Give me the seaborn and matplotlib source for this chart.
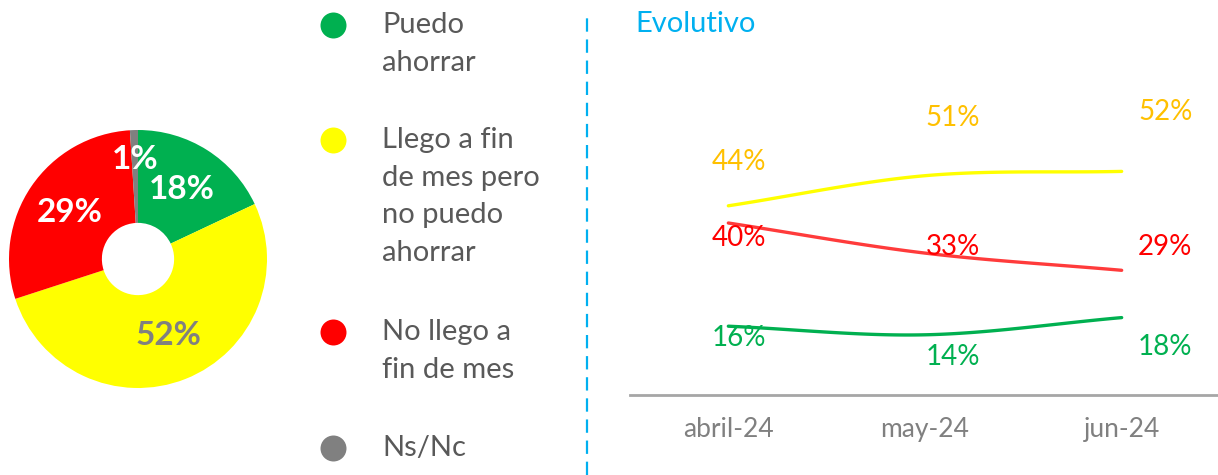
import numpy as np
import pandas as pd
import seaborn as sns
from matplotlib import pyplot as plt

# donut (current month)
cats = ['Puedo ahorrar', 'Llego a fin de mes pero no puedo ahorrar', 'No llego a fin de mes', 'Ns/Nc']
legend_labels = ['Puedo\nahorrar', 'Llego a fin\nde mes pero\nno puedo\nahorrar', 'No llego a\nfin de mes', 'Ns/Nc']
share = [18, 52, 29, 1]
slice_colors = ['#00B050', '#FFFF00', '#FF0000', '#808080']
pct_colors = ['white', '#808080', 'white', 'white']

# evolution
months = ['abril-24', 'may-24', 'jun-24']
puedo = [16, 14, 18]
llego = [44, 51, 52]
no_llego = [40, 33, 29]

line_colors = {'llego': '#FFFF00', 'no_llego': '#FF3B3B', 'puedo': '#00B050'}
lab_colors = {'llego': '#FFC000', 'no_llego': '#FF0000', 'puedo': '#00B050'}
# label offsets in pixels (dx, dy with y up)
lab_off = {
    'llego': [(11, 44), (28, 58), (44, 59)],
    'no_llego': [(11, -15), (28, 6), (43, 23)],
    'puedo': [(11, -12), (28, -22), (43, -29)],
}

sns.set_style('white')
plt.rcParams['font.family'] = ['Lato', 'DejaVu Sans']

W, H = 1218, 475
fig = plt.figure(figsize=(W / 100, H / 100), dpi=100)


def fbox(x0, y0, w, h):
    # pixel box (top-left origin) -> figure fraction
    return [x0 / W, (H - y0 - h) / H, w / W, h / H]


# ---- donut
axd = fig.add_axes(fbox(9, 130, 258, 258))
wedges, texts, autotexts = axd.pie(share, colors=slice_colors, startangle=90, counterclock=False,
                                   wedgeprops=dict(width=0.72, linewidth=0),
                                   autopct='%d%%', pctdistance=0.64, radius=1)
for t, c in zip(autotexts, pct_colors):
    t.set_color(c)
    t.set_fontsize(24)
    t.set_fontweight('bold')
# small slice label pushed outward
x1, y1 = autotexts[3].get_position()
autotexts[3].set_position((x1, y1 * 1.2))
axd.set_xlim(-1, 1)
axd.set_ylim(-1, 1)
axd.set_aspect('equal')
axd.axis('off')

# ---- line chart
series = {'puedo': puedo, 'llego': llego, 'no_llego': no_llego}


def smooth(ys, n=40):
    # catmull-rom style smoothing like office "smoothed line"
    ys = np.asarray(ys, float)
    m = np.gradient(ys)
    xs_out, ys_out = [], []
    for i in range(len(ys) - 1):
        t = np.linspace(0, 1, n)
        p0, p3 = ys[i], ys[i + 1]
        p1, p2 = p0 + m[i] / 3, p3 - m[i + 1] / 3
        b = (1 - t) ** 3 * p0 + 3 * (1 - t) ** 2 * t * p1 + 3 * (1 - t) * t ** 2 * p2 + t ** 3 * p3
        xs_out.extend(i + t)
        ys_out.extend(b)
    return xs_out, ys_out


rows = []
for k, v in series.items():
    xs, ys = smooth(v)
    rows += [dict(x=a, y=b, serie=k) for a, b in zip(xs, ys)]
df = pd.DataFrame(rows)

axl = fig.add_axes(fbox(630, 137, 590, 258))
sns.lineplot(data=df, x='x', y='y', hue='serie', palette=line_colors, estimator=None,
             sort=False, linewidth=2.4, legend=False, ax=axl)
for k, v in series.items():
    for i, val in enumerate(v):
        dx, dy = lab_off[k][i]
        axl.annotate(f'{val}%', (i, val), xytext=(dx, dy), textcoords='offset pixels',
                     ha='center', va='center', fontsize=20, color=lab_colors[k],
                     annotation_clip=False)
axl.set_xlim(-0.5, 2.5)
axl.set_ylim(0, 60)
axl.set_xticks(range(len(months)))
axl.set_xticklabels(months, fontsize=19, color='#808080')
axl.set_yticks([])
axl.set_xlabel('')
axl.set_ylabel('')
axl.tick_params(axis='x', length=0, pad=16)
for s in ['top', 'right', 'left']:
    axl.spines[s].set_visible(False)
axl.spines['bottom'].set_color('#A6A6A6')
axl.spines['bottom'].set_linewidth(2)
axl.patch.set_visible(False)

# ---- legend and separators (pixel overlay)
axo = fig.add_axes([0, 0, 1, 1])
axo.set_xlim(0, W)
axo.set_ylim(H, 0)
axo.axis('off')
axo.patch.set_visible(False)
leg_y = [25, 140, 332, 448]
for lab, c, y in zip(legend_labels, slice_colors, leg_y):
    axo.scatter([333], [y], s=350, color=c, linewidth=0)
    axo.text(382, y - 13, lab, fontsize=21, color='#595959', va='top', ha='left', linespacing=1.55)
axo.axvline(587, ymin=0, ymax=0.965, color='#00B0F0', linewidth=1.6, dashes=(6, 3.5))
axo.text(635, 24, 'Evolutivo', fontsize=21, color='#00B0F0', va='center', ha='left')

fig.savefig('out.png', dpi=100)
